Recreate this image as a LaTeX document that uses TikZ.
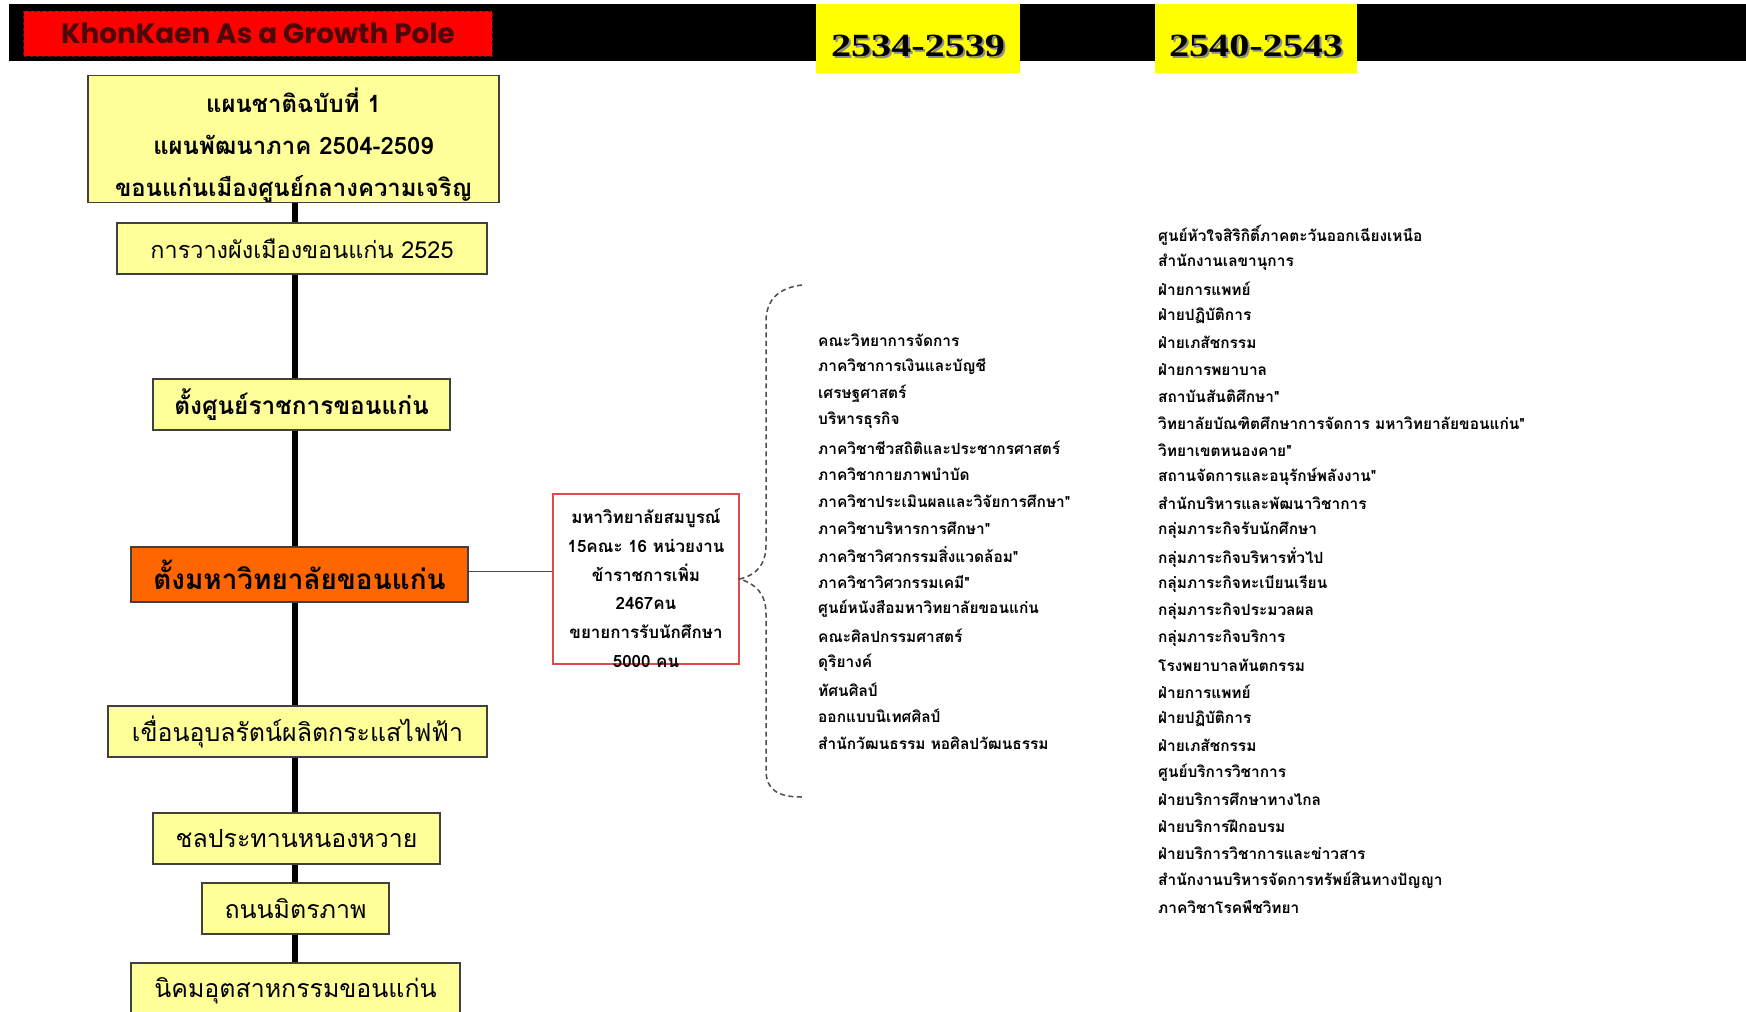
\documentclass[tikz,border=0pt]{standalone}
\usepackage{fontspec}
\newfontfamily\thai[Script=Thai]{Loma}
\newfontfamily\popp{Poppins}
\newfontfamily\tnr{Liberation Serif}
\definecolor{boxyel}{HTML}{FFFF99}
\definecolor{hdyel}{HTML}{FFFF00}
\definecolor{orng}{HTML}{FF6600}
\definecolor{titred}{HTML}{FF0000}
\definecolor{titdark}{HTML}{4A0808}
\definecolor{pinkred}{HTML}{E04A4A}
\tikzset{
  box/.style={draw=black!75, line width=1.3bp, fill=boxyel, inner sep=0pt,
    font=\thai\fontsize{25}{29}\selectfont},
  bbox/.style={box, font=\thai\bfseries\fontsize{24.5}{29}\selectfont},
  item/.style={anchor=west, inner sep=0pt, font=\thai\bfseries\fontsize{15.5}{17}\selectfont},
  spineline/.style={line width=6bp, black},
  yearbox/.style={fill=hdyel, draw=none},
  yeartext/.style={inner sep=0pt, font=\tnr\bfseries\fontsize{32.5}{36}\selectfont}
}
\begin{document}
\begin{tikzpicture}[x=1bp,y=-1bp]
\useasboundingbox (0,0) rectangle (1746,1011);
\clip (0,0) rectangle (1746,1011);
\fill[white] (0,0) rectangle (1746,1011);
% header
\fill[black] (9,4) rectangle (1746,61);
\node[fill=titred, draw=titdark!70!titred, dashed, line width=1bp, minimum width=468bp, minimum height=45bp, inner sep=0pt,
  font=\popp\bfseries\fontsize{28}{31}\selectfont, text=titdark] (title) at (258,33.5) {KhonKaen As a Growth Pole};
\node[yearbox, minimum width=204bp, minimum height=69bp, inner sep=0pt] (y1) at (918,38.5) {};
\node[yearbox, minimum width=202bp, minimum height=69bp, inner sep=0pt] (y2) at (1256,38.5) {};
\node[yeartext, text=black!45] at ([xshift=2bp,yshift=-2bp]y1.center) [yshift=-7bp] {\scalebox{1.24}[1]{2534-2539}};
\node[yeartext] (y1t) at (y1.center) [yshift=-7bp] {\scalebox{1.24}[1]{2534-2539}};
\node[yeartext, text=black!45] at ([xshift=2bp,yshift=-2bp]y2.center) [yshift=-7bp] {\scalebox{1.24}[1]{2540-2543}};
\node[yeartext] (y2t) at (y2.center) [yshift=-7bp] {\scalebox{1.24}[1]{2540-2543}};
% spine boxes
\coordinate (spine) at (295,0);
\node[box, minimum width=411bp, minimum height=127bp] (b1) at (293.5,139) {};
\node[inner sep=0pt, align=center, font=\thai\bfseries\fontsize{24}{42}\selectfont] (b1t) at (293.5,145)
  {แผนชาติฉบับที่ 1\\แผนพัฒนาภาค 2504-2509\\ขอนแก่นเมืองศูนย์กลางความเจริญ};
\node[box, minimum width=370bp, minimum height=51bp, font=\thai\fontsize{23.5}{28}\selectfont] (b2) at (302,248.5) {การวางผังเมืองขอนแก่น 2525};
\node[bbox, minimum width=297bp, minimum height=51bp] (b3) at (301.5,404.5) {ตั้งศูนย์ราชการขอนแก่น};
\node[bbox, fill=orng, minimum width=337bp, minimum height=55bp, font=\thai\bfseries\fontsize{28}{32}\selectfont] (b4) at (299.5,574.5) {ตั้งมหาวิทยาลัยขอนแก่น};
\node[box, minimum width=379bp, minimum height=51bp] (b6) at (297.5,731.5) {เขื่อนอุบลรัตน์ผลิตกระแสไฟฟ้า};
\node[box, minimum width=287bp, minimum height=51bp] (b7) at (296.5,838.5) {ชลประทานหนองหวาย};
\node[box, minimum width=187bp, minimum height=51bp] (b8) at (295.5,908.5) {ถนนมิตรภาพ};
\node[box, minimum width=329bp, minimum height=62bp] (b9) at (295.5,994) {\raisebox{14bp}{นิคมอุตสาหกรรมขอนแก่น}};
% spine connectors
\draw[spineline] (b1.south -| spine) -- (b2.north -| spine);
\draw[spineline] (b2.south -| spine) -- (b3.north -| spine);
\draw[spineline] (b3.south -| spine) -- (b4.north -| spine);
\draw[spineline] (b4.south -| spine) -- (b6.north -| spine);
\draw[spineline] (b6.south -| spine) -- (b7.north -| spine);
\draw[spineline] (b7.south -| spine) -- (b8.north -| spine);
\draw[spineline] (b8.south -| spine) -- (b9.north -| spine);
% university box
\node[draw=pinkred, line width=1.5bp, fill=white, minimum width=186bp, minimum height=170bp, inner sep=0pt] (b5) at (646,579) {};
\node[inner sep=0pt, align=center, font=\thai\bfseries\fontsize{17}{28.8}\selectfont] (b5t) at (646,588)
  {มหาวิทยาลัยสมบูรณ์\\15คณะ 16 หน่วยงาน\\ข้าราชการเพิ่ม\\2467คน\\ขยายการรับนักศึกษา\\5000 คน};
\draw[line width=1bp, black!70] (b4.east |- 0,571) -- (b5.west |- 0,571);
% bracket
\draw[black!70, line width=1.5bp, dash pattern=on 5bp off 3.5bp]
  (802,285) .. controls (778,288) and (766,300) .. (766,322) -- (766,545)
  .. controls (766,565) and (756,575) .. (b5.east)
  .. controls (756,584) and (766,594) .. (766,614) -- (766,770)
  .. controls (766,790) and (778,797) .. (802,797);
% middle list
\foreach \t [count=\i] in {คณะวิทยาการจัดการ, ภาควิชาการเงินและบัญชี, เศรษฐศาสตร์, บริหารธุรกิจ,
  ภาควิชาชีวสถิติและประชากรศาสตร์, ภาควิชากายภาพบำบัด, ภาควิชาประเมินผลและวิจัยการศึกษา",
  ภาควิชาบริหารการศึกษา", ภาควิชาวิศวกรรมสิ่งแวดล้อม", ภาควิชาวิศวกรรมเคมี",
  ศูนย์หนังสือมหาวิทยาลัยขอนแก่น, คณะศิลปกรรมศาสตร์, ดุริยางค์, ทัศนศิลป์, ออกแบบนิเทศศิลป์,
  สำนักวัฒนธรรม หอศิลปวัฒนธรรม}
  {\node[item] (m\i) at (818,{340+26.87*(\i-1)}) {\t};}
% right list
\foreach \t [count=\i] in {ศูนย์หัวใจสิริกิติ์ภาคตะวันออกเฉียงเหนือ, สำนักงานเลขานุการ, ฝ่ายการแพทย์, ฝ่ายปฏิบัติการ,
  ฝ่ายเภสัชกรรม, ฝ่ายการพยาบาล, สถาบันสันติศึกษา", วิทยาลัยบัณฑิตศึกษาการจัดการ มหาวิทยาลัยขอนแก่น",
  วิทยาเขตหนองคาย", สถานจัดการและอนุรักษ์พลังงาน", สำนักบริหารและพัฒนาวิชาการ,
  กลุ่มภาระกิจรับนักศึกษา, กลุ่มภาระกิจบริหารทั่วไป, กลุ่มภาระกิจทะเบียนเรียน, กลุ่มภาระกิจประมวลผล,
  กลุ่มภาระกิจบริการ, โรงพยาบาลทันตกรรม, ฝ่ายการแพทย์, ฝ่ายปฏิบัติการ, ฝ่ายเภสัชกรรม,
  ศูนย์บริการวิชาการ, ฝ่ายบริการศึกษาทางไกล, ฝ่ายบริการฝึกอบรม, ฝ่ายบริการวิชาการและข่าวสาร,
  สำนักงานบริหารจัดการทรัพย์สินทางปัญญา, ภาควิชาโรคพืชวิทยา}
  {\node[item] (r\i) at (1158,{235+26.87*(\i-1)}) {\t};}
\end{tikzpicture}
\end{document}
